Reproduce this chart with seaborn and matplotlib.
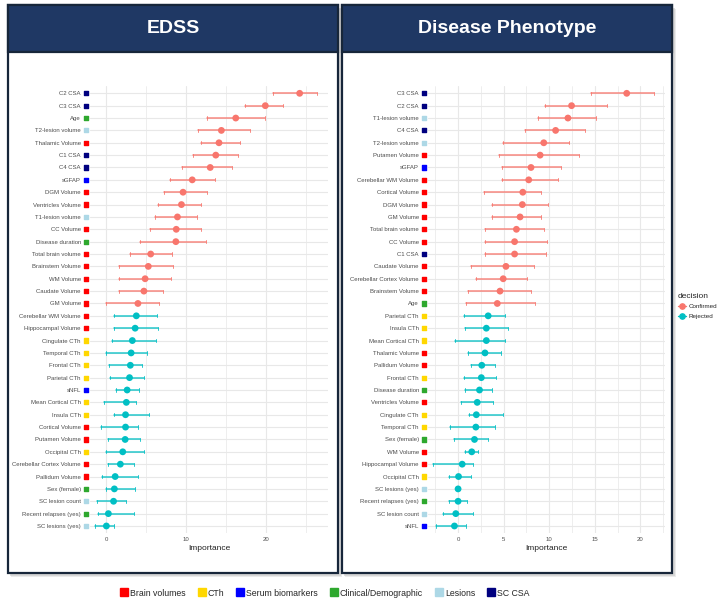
import numpy as np, pandas as pd
import matplotlib; matplotlib.use("Agg")
import matplotlib.pyplot as plt
from matplotlib.patches import Rectangle
from matplotlib.lines import Line2D
from matplotlib.transforms import blended_transform_factory
import seaborn as sns

sns.set_theme(style="white")
plt.rcParams["font.family"] = ["Liberation Sans", "DejaVu Sans"]

# ---------------- data ----------------
edss_feat = ["C2 CSA","C3 CSA","Age","T2-lesion volume","Thalamic Volume","C1 CSA","C4 CSA","sGFAP",
             "DGM Volume","Ventricles Volume","T1-lesion volume","CC Volume","Disease duration",
             "Total brain volume","Brainstem Volume","WM Volume","Caudate Volume","GM Volume",
             "Cerebellar WM Volume","Hippocampal Volume","Cingulate CTh","Temporal CTh","Frontal CTh",
             "Parietal CTh","sNFL","Mean Cortical CTh","Insula CTh","Cortical Volume","Putamen Volume",
             "Occipital CTh","Cerebellar Cortex Volume","Pallidum Volume","Sex (female)","SC lesion count",
             "Recent relapses (yes)","SC lesions (yes)"]
edss_imp = [24.2,19.9,16.2,14.4,14.1,13.7,13.0,10.75,9.6,9.4,8.9,8.75,8.7,5.55,5.25,4.85,4.7,3.95,
            3.75,3.6,3.25,3.1,3.0,2.9,2.6,2.5,2.4,2.4,2.35,2.05,1.75,1.1,1.0,0.9,0.25,0.0]
edss_lo = [20.9,17.3,12.6,11.5,11.8,10.9,9.5,8.0,7.2,6.5,6.1,5.5,4.25,2.9,1.6,1.6,1.55,0.0,
           0.9,1.0,0.7,0.0,0.35,0.4,1.25,-0.25,0.9,-0.7,0.2,0.0,0.15,-0.6,0.0,-1.2,-1.1,-1.4]
edss_hi = [26.4,22.1,19.8,18.0,16.7,16.5,15.7,13.6,12.6,11.9,11.3,11.8,12.5,8.2,8.3,8.05,7.05,6.6,
           6.4,6.5,6.25,5.05,4.4,4.75,4.05,3.7,5.3,3.9,4.25,4.7,3.4,3.95,3.6,2.45,3.45,0.9]
edss_n_conf = 18

phen_feat = ["C3 CSA","C2 CSA","T1-lesion volume","C4 CSA","T2-lesion volume","Putamen Volume","sGFAP",
             "Cerebellar WM Volume","Cortical Volume","DGM Volume","GM Volume","Total brain volume",
             "CC Volume","C1 CSA","Caudate Volume","Cerebellar Cortex Volume","Brainstem Volume","Age",
             "Parietal CTh","Insula CTh","Mean Cortical CTh","Thalamic Volume","Pallidum Volume",
             "Frontal CTh","Disease duration","Ventricles Volume","Cingulate CTh","Temporal CTh",
             "Sex (female)","WM Volume","Hippocampal Volume","Occipital CTh","SC lesions (yes)",
             "Recent relapses (yes)","SC lesion count","sNFL"]
phen_imp = [18.5,12.45,12.05,10.7,9.4,9.0,8.0,7.75,7.1,7.05,6.8,6.4,6.2,6.2,5.25,4.95,4.6,4.3,
            3.3,3.1,3.1,2.95,2.6,2.55,2.35,2.1,2.0,1.95,1.8,1.5,0.45,0.05,0.0,0.0,-0.25,-0.4]
phen_lo = [14.6,9.55,8.75,7.3,4.95,4.5,4.8,4.85,2.85,3.75,3.75,2.95,2.9,3.0,1.4,2.0,1.1,0.9,
           0.6,0.8,-0.3,1.05,1.4,0.7,0.8,0.35,1.15,-0.9,-0.5,0.8,-2.8,-0.95,0.0,-0.95,-1.6,-2.45]
phen_hi = [21.5,16.3,15.1,13.9,12.2,13.25,11.25,11.0,9.15,9.9,9.15,9.45,9.8,9.65,8.35,7.55,7.95,8.45,
           5.2,5.5,5.2,4.75,4.1,4.2,3.7,3.85,4.95,4.05,3.3,2.2,1.6,1.4,0.0,1.0,1.6,0.9]
phen_n_conf = 18

categories = ["Brain volumes","CTh","Serum biomarkers","Clinical/Demographic","Lesions","SC CSA"]
cat_colors = ["#FF0000","#FFD700","#0000FF","#2EA82E","#ADD8E6","#00007F"]
brain_vols = ["Thalamic Volume","DGM Volume","Ventricles Volume","CC Volume","Total brain volume",
              "Brainstem Volume","WM Volume","Caudate Volume","GM Volume","Cerebellar WM Volume",
              "Hippocampal Volume","Cortical Volume","Putamen Volume","Cerebellar Cortex Volume","Pallidum Volume"]
cth = ["Cingulate CTh","Temporal CTh","Frontal CTh","Parietal CTh","Mean Cortical CTh","Insula CTh","Occipital CTh"]
serum = ["sGFAP","sNFL"]
clinical = ["Age","Disease duration","Sex (female)","Recent relapses (yes)"]
lesions = ["T2-lesion volume","T1-lesion volume","SC lesion count","SC lesions (yes)"]
sc_csa = ["C1 CSA","C2 CSA","C3 CSA","C4 CSA"]
cat_of = {}
for c, lst in zip(categories, [brain_vols, cth, serum, clinical, lesions, sc_csa]):
    for f in lst: cat_of[f] = c
col_of = dict(zip(categories, cat_colors))
dec_pal = {"Confirmed": "#F8766D", "Rejected": "#00BFC4"}

def frame(feat, imp, lo, hi, nconf):
    df = pd.DataFrame({"feature": feat, "imp": imp, "lo": lo, "hi": hi})
    df["row"] = np.arange(len(df))
    df["decision"] = ["Confirmed" if i < nconf else "Rejected" for i in range(len(df))]
    df["category"] = df.feature.map(cat_of)
    return df

W, H = 720, 599
def fx(x): return x / W
def fy(y): return 1 - y / H

fig = plt.figure(figsize=(7.2, 5.99), dpi=100)

# panel frames + headers (with a soft drop shadow)
for (x0, x1, title) in [(8, 338, "EDSS"), (342, 672, "Disease Phenotype")]:
    for off, a in [(4, 0.35), (2.5, 0.55)]:
        fig.add_artist(Rectangle((fx(x0 + off - 1), fy(573 + off)), fx(x1 - x0 + 1), (573 - 5) / H,
                                 transform=fig.transFigure, facecolor="#c8c8c8", edgecolor="none",
                                 zorder=-3, alpha=a))
    fig.add_artist(Rectangle((fx(x0), fy(573)), fx(x1 - x0), (573 - 5) / H,
                             transform=fig.transFigure, facecolor="white", edgecolor="#17263a",
                             lw=1.6, zorder=-1))
    fig.add_artist(Rectangle((fx(x0), fy(52)), fx(x1 - x0), (52 - 5) / H,
                             transform=fig.transFigure, facecolor="#1F3864", edgecolor="#17263a",
                             lw=1.6, zorder=1))
    fig.text(fx((x0 + x1) / 2), fy(28.5), title, color="white", fontsize=14, fontweight="bold",
             ha="center", va="center", zorder=3)

panels = [
    (frame(edss_feat, edss_imp, edss_lo, edss_hi, edss_n_conf), [90, 328], (-2.05, 27.75),
     [0, 10, 20], np.arange(-5, 30, 5)),
    (frame(phen_feat, phen_imp, phen_lo, phen_hi, phen_n_conf), [428, 665], (-3.3, 22.7),
     [0, 5, 10, 15, 20], np.arange(-2.5, 25, 2.5)),
]
for df, (px0, px1), xlim, ticks, grid in panels:
    ax = fig.add_axes([fx(px0), fy(533.4), fx(px1 - px0), (533.4 - 85.9) / H])
    ax.set_facecolor("white")
    for s in ax.spines.values(): s.set_visible(False)
    for g in grid:
        ax.axvline(g, color="#E8E8E8", lw=0.8 if g in ticks else 0.5, zorder=0)
    for r in df.row:
        ax.axhline(r, color="#E8E8E8", lw=0.8, zorder=0)
    for _, d in df.iterrows():
        c = dec_pal[d.decision]
        ax.plot([d.lo, d.hi], [d.row, d.row], color=c, lw=1.1, alpha=0.85, zorder=2)
        for e in (d.lo, d.hi):
            ax.plot([e, e], [d.row - 0.13, d.row + 0.13], color=c, lw=0.7, alpha=0.85, zorder=2)
    sns.scatterplot(data=df, x="imp", y="row", hue="decision", palette=dec_pal, s=24,
                    edgecolor="none", legend=False, ax=ax, zorder=3)
    tr = blended_transform_factory(ax.transAxes, ax.transData)
    ax.scatter([-0.017] * len(df), df.row, marker="s", s=9, c=[col_of[c] for c in df.category],
               transform=tr, clip_on=False, zorder=3)
    ax.set_xlim(*xlim); ax.set_ylim(35.6, -0.6)
    ax.set_yticks(df.row); ax.set_yticklabels(df.feature)
    ax.set_xticks(ticks); ax.set_xticklabels([str(t) for t in ticks])
    ax.tick_params(axis="y", length=0, pad=6.5, labelsize=4.3, labelcolor="#4D4D4D")
    ax.tick_params(axis="x", length=0, pad=2.5, labelsize=4.3, labelcolor="#4D4D4D")
    ax.set_xlabel("Importance", fontsize=6, labelpad=2, color="#222222")
    ax.set_ylabel("")

# decision legend
h_dec = [Line2D([0], [0], color=dec_pal[k], marker="o", ms=3.8, lw=1.0) for k in dec_pal]
leg = fig.legend(h_dec, list(dec_pal), title="decision", loc="upper left",
                 bbox_to_anchor=(fx(675), fy(290)), frameon=False, fontsize=4.5, title_fontsize=6,
                 handlelength=1.3, handletextpad=0.5, labelspacing=0.7, borderaxespad=0)
leg._legend_box.align = "left"

# category legend
h_cat = [Line2D([0], [0], color=c, marker="s", ms=5.5, lw=0) for c in cat_colors]
fig.legend(h_cat, categories, loc="center", bbox_to_anchor=(fx(325), fy(593)), ncol=6,
           frameon=False, fontsize=6.3, handlelength=0.8, handletextpad=0.3, columnspacing=1.4,
           borderaxespad=0)

fig.savefig("out.png", dpi=100)
